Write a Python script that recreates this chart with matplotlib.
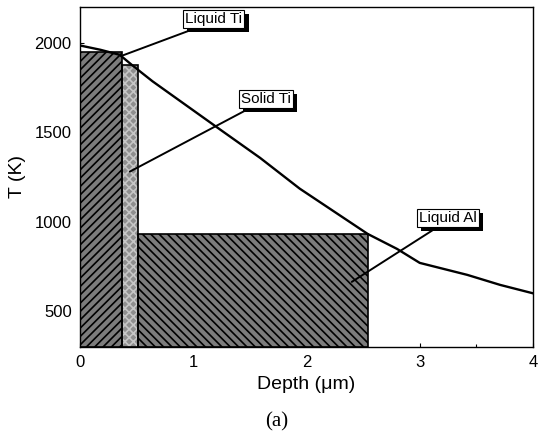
import matplotlib
matplotlib.use("Agg")
import matplotlib.pyplot as plt
import matplotlib.patheffects as pe

plt.rcParams['font.family'] = ['Liberation Sans', 'DejaVu Sans']
plt.rcParams['hatch.linewidth'] = 1.2

# Temperature profile vs depth
depth = [0.0, 0.18, 0.35, 0.47, 0.64, 1.24, 1.59, 1.94, 2.54, 2.80, 3.0, 3.42, 3.71, 4.0]
temp = [1985, 1961, 1933, 1870, 1785, 1514, 1357, 1185, 932, 848, 770, 703, 647, 600]

# Phase regions: (label, x_start, x_end, top temperature)
phase_names = ['Liquid Ti', 'Solid Ti', 'Liquid Al']
phase_x0 = [0.0, 0.37, 0.51]
phase_x1 = [0.37, 0.51, 2.54]
phase_top = [1950, 1877, 933]

# Annotation anchor points and label positions
arrow_xy = [(0.38, 1930), (0.44, 1280), (2.40, 664)]
label_xy = [(1.18, 2134), (1.64, 1687), (3.25, 1022)]
label_relpos = [(0.3, 0.0), (0.27, 0.0), (0.38, 0.0)]

xticks = [0, 1, 2, 3, 4]
yticks = [500, 1000, 1500, 2000]

fig = plt.figure(figsize=(5.38, 4.32), dpi=100)
ax = fig.add_axes([80/538, 1-347/432, 453/538, 340/432])

styles = [
    dict(face='#7c7c7c', hatch='////', hcol='black'),
    dict(face='#8e8e8e', hatch='xxxx', hcol='#c6c6c6'),
    dict(face='#7c7c7c', hatch='\\\\\\\\', hcol='black'),
]
ybase = 300
for x0, x1, top, st in zip(phase_x0, phase_x1, phase_top, styles):
    ax.bar(x0, top - ybase, width=x1 - x0, bottom=ybase, align='edge',
           color=st['face'], edgecolor=st['hcol'], hatch=st['hatch'],
           linewidth=0, zorder=2)
    ax.bar(x0, top - ybase, width=x1 - x0, bottom=ybase, align='edge',
           fill=False, edgecolor='black', linewidth=1.2, zorder=3)

ax.plot(depth, temp, color='black', lw=1.7, zorder=4)

for name, axy, lxy, rp in zip(phase_names, arrow_xy, label_xy, label_relpos):
    t = ax.annotate(name, xy=axy, xytext=lxy, ha='center', va='center',
                    fontsize=11, zorder=6,
                    bbox=dict(boxstyle='square,pad=0.15', fc='white', ec='black', lw=0.8),
                    arrowprops=dict(arrowstyle='-', color='black', lw=1.4,
                                    relpos=rp, shrinkA=4, shrinkB=0))
    t.get_bbox_patch().set_path_effects([
        pe.SimplePatchShadow(offset=(3, -3), shadow_rgbFace='black', alpha=1.0),
        pe.Normal()])

ax.set_xlim(0, 4)
ax.set_ylim(300, 2200)
ax.set_xticks(xticks)
ax.set_yticks(yticks)
ax.set_xticks([0.5, 1.5, 2.5, 3.5], minor=True)
ax.tick_params(direction='in', length=3, width=0.8, labelsize=12, pad=6)
ax.tick_params(which='minor', direction='in', length=2, width=0.8)
for s in ax.spines.values():
    s.set_linewidth(1.0)

ax.set_xlabel('Depth (\u03bcm)', fontsize=14, labelpad=4)
ax.set_ylabel('T (K)', fontsize=14, labelpad=6)

fig.text(277/538, 1-422/432, '(a)', ha='center', va='center', fontsize=15,
         family='Liberation Serif')

fig.savefig('out.png', dpi=100)
